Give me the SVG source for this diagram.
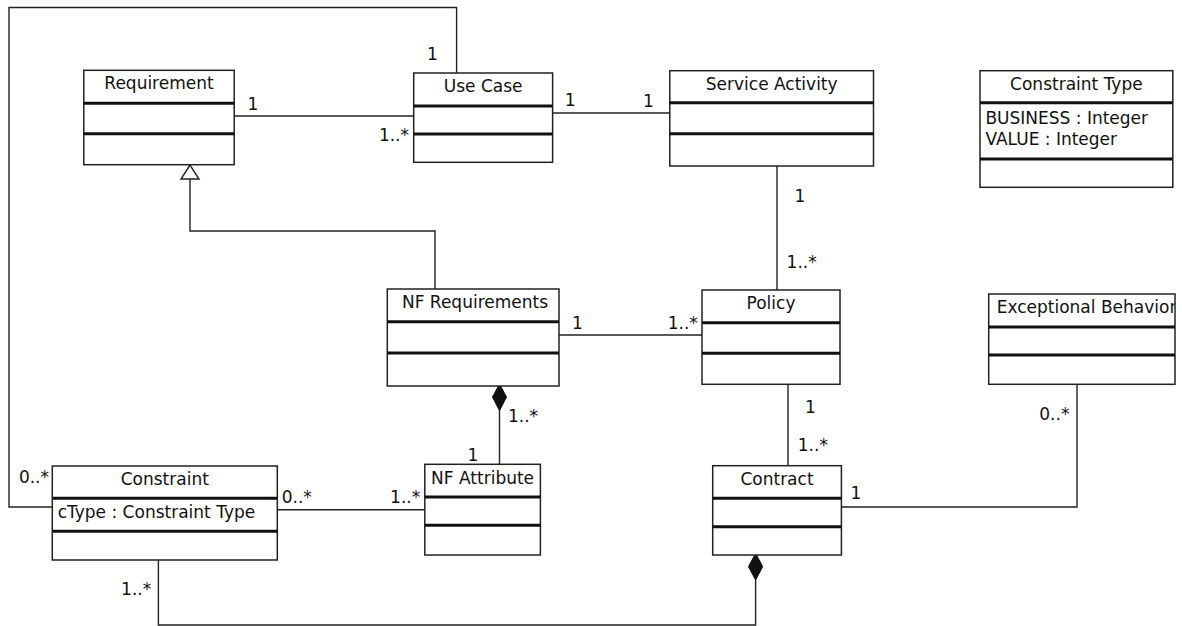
<svg xmlns="http://www.w3.org/2000/svg" width="1182" height="626" viewBox="0 0 1182 626">
<style>
text{font-family:"DejaVu Sans","Liberation Sans",sans-serif;font-size:17px;fill:#111}
.box{fill:#fff;stroke:#222;stroke-width:1.5}
.div{stroke:#111;stroke-width:3}
.con{fill:none;stroke:#222;stroke-width:1.4}
.t{text-anchor:middle}
.m{text-anchor:middle}
.e{text-anchor:end}
</style>
<defs>
<clipPath id="ebclip"><rect x="989" y="294" width="186" height="34"/></clipPath>
</defs>
<rect width="1182" height="626" fill="#fff"/>
<g id="connectors">
<polyline class="con" points="52,507 9,507 9,7.5 456.6,7.5 456.6,73"/>
<line class="con" x1="234" y1="116" x2="414" y2="116"/>
<line class="con" x1="552" y1="113" x2="670" y2="113"/>
<line class="con" x1="777" y1="166" x2="777" y2="290"/>
<polyline class="con" points="435,289 435,231 190,231 190,179"/>
<polygon points="190,165 181,179 199,179" fill="#fff" stroke="#222" stroke-width="1.4"/>
<line class="con" x1="559" y1="335" x2="702" y2="335"/>
<line class="con" x1="499.5" y1="410" x2="499.5" y2="464"/>
<polygon points="499.5,384 506.5,397 499.5,410.7 492.5,397" fill="#111" stroke="#111" stroke-width="1"/>
<line class="con" x1="277" y1="509.7" x2="425" y2="509.7"/>
<line class="con" x1="788" y1="384" x2="788" y2="466"/>
<polyline class="con" points="841,507 1077,507 1077,384"/>
<polyline class="con" points="158.4,560 158.4,625 755.6,625 755.6,580"/>
<polygon points="755.6,553.3 762.7,566.7 755.6,580 748.5,566.7" fill="#111" stroke="#111" stroke-width="1"/>
</g>
<g id="labels">
<text class="m" x="253" y="109.5">1</text>
<text class="e" x="409" y="141">1..*</text>
<text class="m" x="432.4" y="59.5">1</text>
<text class="m" x="570.2" y="106">1</text>
<text class="m" x="648.5" y="107">1</text>
<text class="m" x="800" y="202">1</text>
<text x="786.6" y="268">1..*</text>
<text class="m" x="577.3" y="329">1</text>
<text class="e" x="697.8" y="329">1..*</text>
<text x="508" y="422">1..*</text>
<text class="m" x="473" y="461">1</text>
<text class="e" x="49" y="483">0..*</text>
<text x="281.7" y="503">0..*</text>
<text class="e" x="420.2" y="503">1..*</text>
<text class="e" x="151.2" y="595">1..*</text>
<text class="m" x="810.4" y="413">1</text>
<text x="797.8" y="450.5">1..*</text>
<text class="m" x="856" y="499">1</text>
<text class="e" x="1069.4" y="419.5">0..*</text>
</g>
<g id="requirement">
<rect class="box" x="83.8" y="70.3" width="150.4" height="94.4"/>
<line class="div" x1="83.8" y1="103.3" x2="234.2" y2="103.3"/>
<line class="div" x1="83.8" y1="133.7" x2="234.2" y2="133.7"/>
<text class="t" x="159" y="89.3">Requirement</text>
</g>
<g id="usecase">
<rect class="box" x="413.7" y="73" width="138.9" height="89.3"/>
<line class="div" x1="413.7" y1="106" x2="552.6" y2="106"/>
<line class="div" x1="413.7" y1="134" x2="552.6" y2="134"/>
<text class="t" x="483.2" y="92">Use Case</text>
</g>
<g id="serviceactivity">
<rect class="box" x="669.8" y="70.7" width="203.7" height="95.3"/>
<line class="div" x1="669.8" y1="102.7" x2="873.5" y2="102.7"/>
<line class="div" x1="669.8" y1="133.7" x2="873.5" y2="133.7"/>
<text class="t" x="771.7" y="89.5">Service Activity</text>
</g>
<g id="constrainttype">
<rect class="box" x="980" y="70.7" width="192.8" height="116.6"/>
<line class="div" x1="980" y1="102.7" x2="1172.8" y2="102.7"/>
<line class="div" x1="980" y1="159" x2="1172.8" y2="159"/>
<text class="t" x="1076.4" y="89.5">Constraint Type</text>
<text x="985.4" y="123.9">BUSINESS : Integer</text>
<text x="985.4" y="145.2">VALUE : Integer</text>
</g>
<g id="nfrequirements">
<rect class="box" x="387.3" y="289" width="171.7" height="97"/>
<line class="div" x1="387.3" y1="321.7" x2="559" y2="321.7"/>
<line class="div" x1="387.3" y1="353" x2="559" y2="353"/>
<text class="t" x="475" y="308">NF Requirements</text>
</g>
<g id="policy">
<rect class="box" x="702" y="290" width="138" height="94.3"/>
<line class="div" x1="702" y1="322.7" x2="840" y2="322.7"/>
<line class="div" x1="702" y1="353.3" x2="840" y2="353.3"/>
<text class="t" x="771" y="309">Policy</text>
</g>
<g id="exceptionalbehavior">
<rect class="box" x="988.7" y="294" width="186.3" height="90.3"/>
<line class="div" x1="988.7" y1="327" x2="1175" y2="327"/>
<line class="div" x1="988.7" y1="355" x2="1175" y2="355"/>
<text x="996.7" y="313" clip-path="url(#ebclip)">Exceptional Behavior</text>
</g>
<g id="constraint">
<rect class="box" x="52.3" y="466" width="225" height="94"/>
<line class="div" x1="52.3" y1="498.3" x2="277.3" y2="498.3"/>
<line class="div" x1="52.3" y1="531.3" x2="277.3" y2="531.3"/>
<text class="t" x="164.8" y="485.2">Constraint</text>
<text x="57.7" y="517.5">cType : Constraint Type</text>
</g>
<g id="nfattribute">
<rect class="box" x="424.8" y="464.3" width="115.6" height="90.7"/>
<line class="div" x1="424.8" y1="497" x2="540.4" y2="497"/>
<line class="div" x1="424.8" y1="525.3" x2="540.4" y2="525.3"/>
<text class="t" x="482.6" y="483.5">NF Attribute</text>
</g>
<g id="contract">
<rect class="box" x="712.7" y="465.7" width="128.7" height="89.3"/>
<line class="div" x1="712.7" y1="498.3" x2="841.4" y2="498.3"/>
<line class="div" x1="712.7" y1="526.7" x2="841.4" y2="526.7"/>
<text class="t" x="777" y="485">Contract</text>
</g>
</svg>
